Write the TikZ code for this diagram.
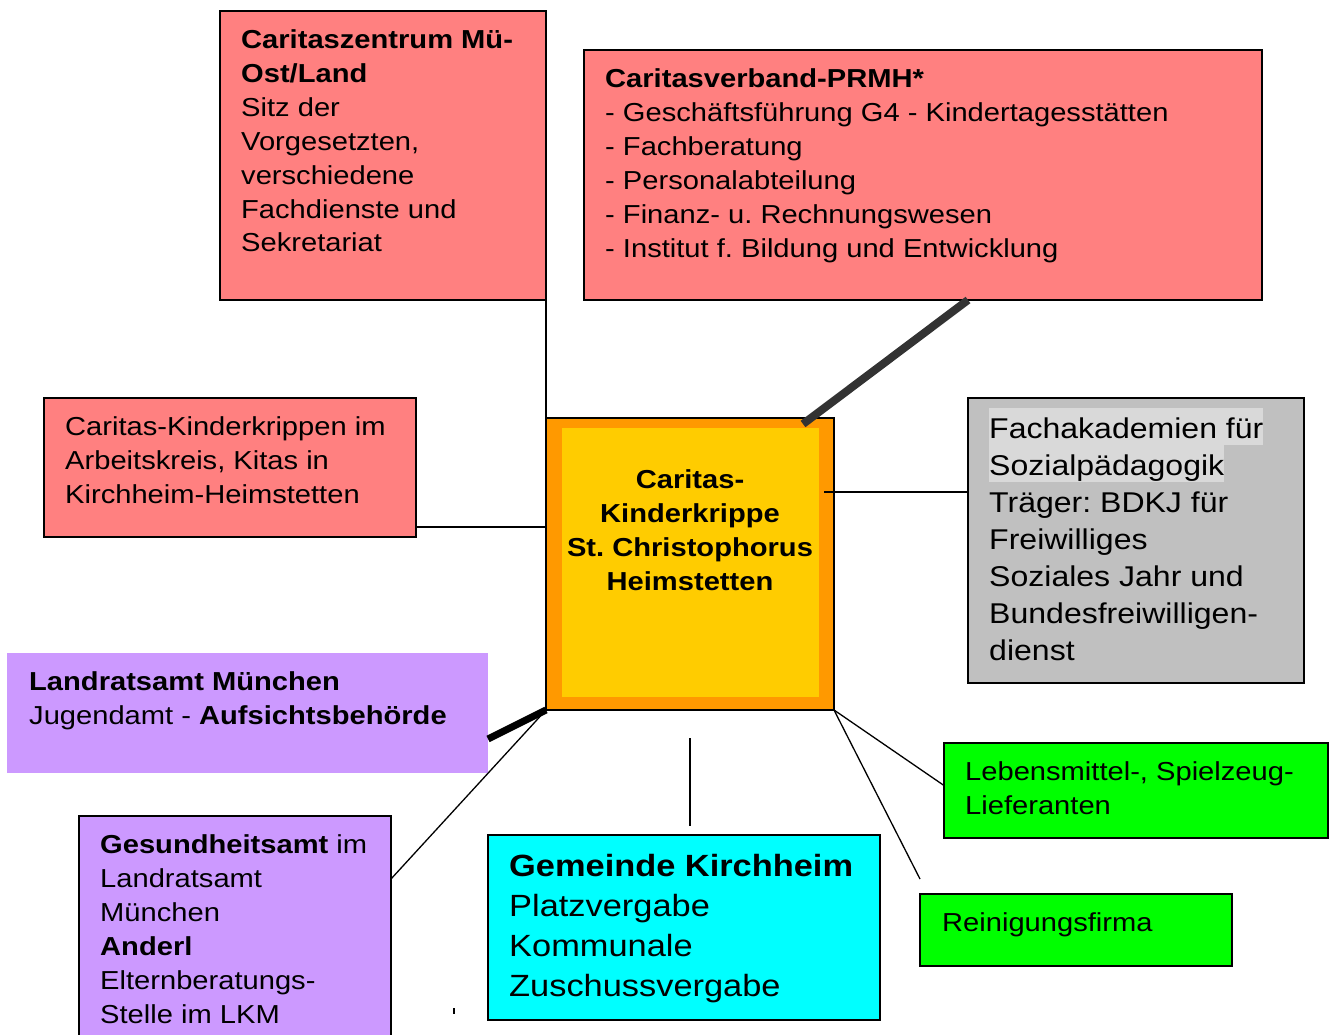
\documentclass[tikz,border=0pt]{standalone}
\usepackage{fontspec}
\setmainfont{Liberation Sans}[FakeStretch=1.12]
\usepackage{tikz}
\frenchspacing

\definecolor{boxred}{HTML}{FF8080}
\definecolor{boxorange}{HTML}{FF9900}
\definecolor{boxyellow}{HTML}{FFCC00}
\definecolor{boxgray}{HTML}{C0C0C0}
\definecolor{markgray}{HTML}{D9D9D9}
\definecolor{boxpurple}{HTML}{CC99FF}
\definecolor{boxcyan}{HTML}{00FFFF}
\definecolor{boxgreen}{HTML}{00FF00}
\definecolor{darkline}{HTML}{333333}

\newcommand\txtnorm{\fontsize{26}{34}\selectfont}
\newcommand\txtfach{\fontsize{28.6}{37}\selectfont}
\newcommand\txtgem{\fontsize{30.7}{40}\selectfont}
\newcommand\markline[1]{{\setlength\fboxsep{0pt}\colorbox{markgray}{\rule[-6.3pt]{0pt}{36.5pt}#1}}}

\tikzset{
	box/.style={draw, line width=2pt, anchor=north west, inner sep=0pt, outer sep=0pt},
	txt/.style={anchor=north west, align=left, inner sep=0pt, font=\txtnorm},
	conn/.style={line width=1.3pt}
}

\begin{document}
\frenchspacing
\begin{tikzpicture}[x=1pt,y=-1pt]
		\useasboundingbox (0,0) rectangle (1331,1035);
		% boxes
		\node[box, fill=boxred, minimum width=326pt, minimum height=289pt] (zentrum) at (220,11) {};
		\node[box, fill=boxred, minimum width=678pt, minimum height=250pt] (verband) at (584,50) {};
		\node[box, fill=boxred, minimum width=372pt, minimum height=139pt] (kk) at (44,398) {};
		\node[box, fill=boxorange, line width=1.3pt, minimum width=288pt, minimum height=292pt] (krippe) at (546,418) {};
		\node[box, draw=none, fill=boxyellow, minimum width=257pt, minimum height=269pt] (krippein) at (562,428) {};
		\node[box, fill=boxgray, minimum width=336pt, minimum height=285pt] (fach) at (968,398) {};
		\node[box, draw=none, fill=boxpurple, minimum width=481pt, minimum height=120pt] (lra) at (7,653) {};
		\node[box, fill=boxpurple, minimum width=312pt, minimum height=240pt] (ges) at (79,816) {};
		\node[box, fill=boxcyan, minimum width=392pt, minimum height=185pt] (gem) at (488,835) {};
		\node[box, fill=boxgreen, minimum width=384pt, minimum height=95pt] (leb) at (944,743) {};
		\node[box, fill=boxgreen, minimum width=312pt, minimum height=72pt] (rein) at (920,894) {};

		% texts
		\node[txt] (zentrumtxt) at ([xshift=21pt,yshift=-13pt]zentrum.north west) {\strut\textbf{Caritaszentrum Mü-}\\\textbf{Ost/Land}\\Sitz der\\Vorgesetzten,\\verschiedene\\Fachdienste und\\Sekretariat};
		\node[txt] (verbandtxt) at ([xshift=21pt,yshift=-14pt]verband.north west) {\strut\textbf{Caritasverband-PRMH*}\\- Geschäftsführung G4 - Kindertagesstätten\\- Fachberatung\\- Personalabteilung\\- Finanz- u. Rechnungswesen\\- Institut f. Bildung und Entwicklung};
		\node[txt] (kktxt) at ([xshift=21pt,yshift=-13pt]kk.north west) {\strut Caritas-Kinderkrippen im\\Arbeitskreis, Kitas in\\Kirchheim-Heimstetten};
		\node[anchor=north, align=center, inner sep=0pt, font=\txtnorm\bfseries] (krippetxt) at ([yshift=-46.7pt]krippe.north) {\strut Caritas-\\Kinderkrippe\\St. Christophorus\\Heimstetten};
		\node[txt, font=\txtfach] (fachtxt) at ([xshift=21pt,yshift=-10pt]fach.north west) {\markline{Fachakademien für}\\\markline{Sozialpädagogik}\\Träger: BDKJ für\\Freiwilliges\\Soziales Jahr und\\Bundesfreiwilligen-\\dienst};
		\node[txt] (lratxt) at ([xshift=22pt,yshift=-13pt]lra.north west) {\strut\textbf{Landratsamt München}\\Jugendamt - \textbf{Aufsichtsbehörde}};
		\node[txt] (gestxt) at ([xshift=21pt,yshift=-13pt]ges.north west) {\strut\textbf{Gesundheitsamt} im\\Landratsamt\\München\\\textbf{Anderl}\\Elternberatungs-\\Stelle im LKM};
		\node[txt, font=\txtgem] (gemtxt) at ([xshift=21pt,yshift=-13.5pt]gem.north west) {\strut\textbf{Gemeinde Kirchheim}\\Platzvergabe\\Kommunale\\Zuschussvergabe};
		\node[txt] (lebtxt) at ([xshift=21pt,yshift=-13pt]leb.north west) {\strut Lebensmittel-, Spielzeug-\\Lieferanten};
		\node[txt] (reintxt) at ([xshift=22pt,yshift=-13pt]rein.north west) {\strut Reinigungsfirma};

		% connectors
		\coordinate (kkout) at ([yshift=10pt]kk.south east);
		\coordinate (fachin) at ([yshift=48.5pt]fach.west);
		\coordinate (krippebot) at ([yshift=-28pt]krippe.south);
		\coordinate (gemtop) at ([yshift=9pt]gem.north -| krippe.south);
		\draw[conn] (zentrum.south east) -- (krippe.north west);
		\draw[line width=8pt, darkline] ([xshift=45pt]verband.south) -- ([xshift=113pt,yshift=-6pt]krippe.north);
		\draw[conn] (kkout) -- (kkout -| krippe.west);
		\draw[conn] ([xshift=5pt]fachin -| krippein.east) -- (fachin);
		\draw[line width=7pt] ([yshift=-26pt]lra.east) -- (krippe.south west);
		\draw[conn] ([yshift=-63pt]ges.north east) -- (krippe.south west);
		\draw[conn] (krippebot) -- (gemtop);
		\draw[conn] (krippe.south east) -- ([yshift=5pt]leb.west);
		\draw[conn] (krippe.south east) -- ([yshift=15pt]rein.north west);
		\draw[line width=1.5pt] (454,1008) -- (454,1014);
	\end{tikzpicture}
\end{document}
